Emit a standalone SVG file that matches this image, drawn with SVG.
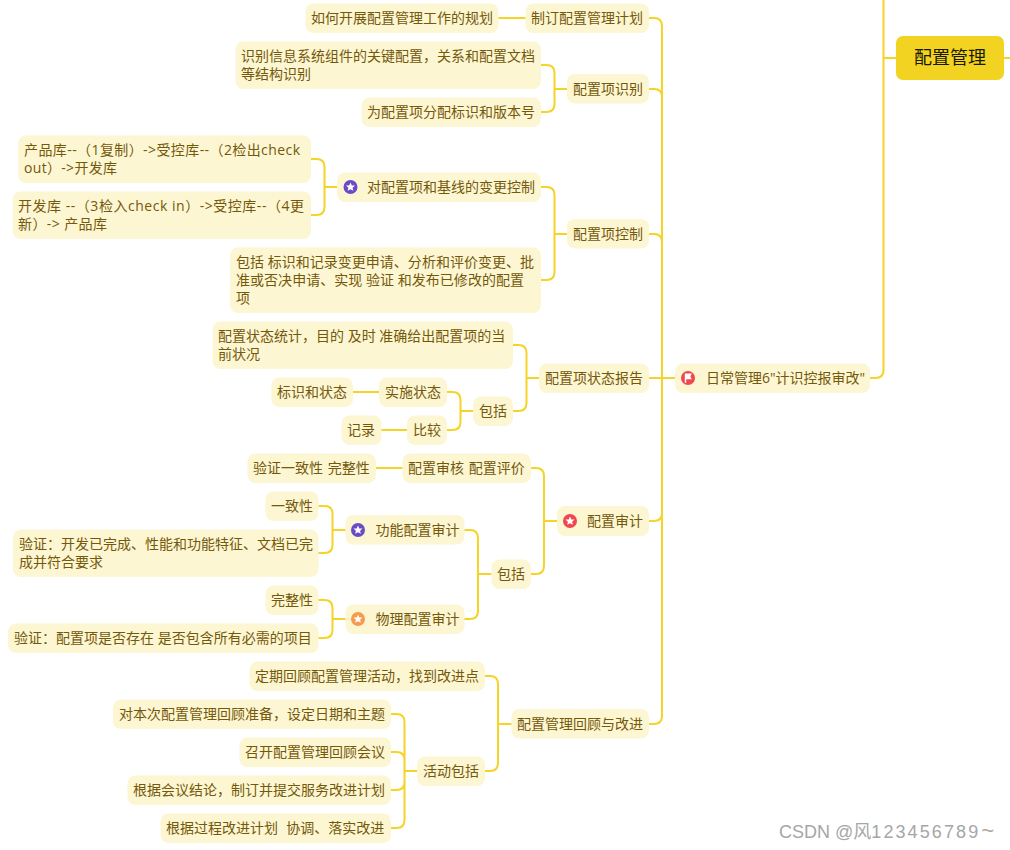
<svg xmlns="http://www.w3.org/2000/svg" width="1010" height="850" viewBox="0 0 1010 850">
<style>
.n{fill:#fdf6d3}
.t{font-family:"Open Sans","Noto Sans CJK SC",sans-serif;font-size:14px;fill:#74590a;white-space:pre}
.r{fill:#f3d321}
.rt{font-family:"Noto Sans CJK SC","Noto Sans",sans-serif;font-size:18px;fill:#1a1a00}
.c{fill:none;stroke:#f5d327;stroke-width:2;stroke-linecap:round}
.w{font-family:"Liberation Sans","Noto Sans CJK SC",sans-serif;font-size:18px;fill:#a6a6a6}
.d{letter-spacing:2.1px}
</style>
<defs>
<polygon id="star" points="0,-4.6 1.3,-1.6 4.5,-1.4 2.1,0.7 2.8,3.8 0,2.2 -2.8,3.8 -2.1,0.7 -4.5,-1.4 -1.3,-1.6" fill="#fff"/>
<path id="flag" d="M-3.2,-4.4H3.8L2.4,-1.6L3.8,1.2H-1.8V4.8H-3.2Z" fill="#fff"/>
</defs>
<rect width="1010" height="850" fill="#fff"/>
<g id="connectors">
<path class="c" d="M883.5 0V370Q883.5 378 875.5 378H870M896 58H883.5M1004 58H1010"/>
<path class="c" d="M675 378H649M649 18H654Q662 18 662 26V716Q662 724 654 724H649M649 89H654Q662 89 662 97M649 234H654Q662 234 662 242M649 521H654Q662 521 662 513"/>
<path class="c" d="M498.5 18H525"/>
<path class="c" d="M541 65H546.5Q554.5 65 554.5 73V104Q554.5 112 546.5 112H541M554.5 89H567"/>
<path class="c" d="M541 187H546.5Q554.5 187 554.5 195V272Q554.5 280 546.5 280H541M554.5 234H567"/>
<path class="c" d="M311 159H316.5Q324.5 159 324.5 167V207Q324.5 215 316.5 215H311M324.5 187H337"/>
<path class="c" d="M513 345H518.5Q526.5 345 526.5 353V403Q526.5 411 518.5 411H513M526.5 378H539"/>
<path class="c" d="M447 392H452.5Q460.5 392 460.5 400V422Q460.5 430 452.5 430H447M460.5 411H473"/>
<path class="c" d="M353 392H379M381.5 430H407"/>
<path class="c" d="M376 468H402"/>
<path class="c" d="M531 468H536Q544 468 544 476V566Q544 574 536 574H531M544 521H557"/>
<path class="c" d="M464.6 530H470Q478 530 478 538V611Q478 619 470 619H464.6M478 574H491"/>
<path class="c" d="M318.6 506H324.5Q332.5 506 332.5 514V545Q332.5 553 324.5 553H318.6M332.5 530H345"/>
<path class="c" d="M318.6 600H324.5Q332.5 600 332.5 608V630Q332.5 638 324.5 638H318.6M332.5 619H345"/>
<path class="c" d="M485 676H490Q498 676 498 684V763Q498 771 490 771H485M498 724H511"/>
<path class="c" d="M391 714H396.5Q404.5 714 404.5 722V820Q404.5 828 396.5 828H391M391 752H396.5Q404.5 752 404.5 760V782Q404.5 790 396.5 790H391M404.5 771H417"/>
</g>
<g id="root"><rect class="r" x="896" y="36" width="108" height="44" rx="7"/><text class="rt" x="914" y="64">配置管理</text></g>
<g id="n-daily"><rect class="n" x="675" y="363.5" width="195" height="29.5" rx="8"/><circle cx="688" cy="378" r="7" fill="#f0474f"/><use href="#flag" x="688" y="378"/><text class="t" x="706" y="383">日常管理6"计识控报审改"</text></g>
<g id="n-plan"><rect class="n" x="525.5" y="3.5" width="123.5" height="29.5" rx="8"/><text class="t" x="531" y="23">制订配置管理计划</text></g>
<g id="n-plan1"><rect class="n" x="305.5" y="3.5" width="193" height="29.5" rx="8"/><text class="t" x="311" y="23">如何开展配置管理工作的规划</text></g>
<g id="n-ident"><rect class="n" x="567" y="74" width="82" height="29.5" rx="8"/><text class="t" x="573" y="94">配置项识别</text></g>
<g id="n-ident1"><rect class="n" x="235.5" y="41.5" width="305.5" height="47.5" rx="8"/><text class="t" x="241" y="61">识别信息系统组件的关键配置，关系和配置文档</text><text class="t" x="241" y="79">等结构识别</text></g>
<g id="n-ident2"><rect class="n" x="361.5" y="97.5" width="179.5" height="29.5" rx="8"/><text class="t" x="367" y="117">为配置项分配标识和版本号</text></g>
<g id="n-ctrl"><rect class="n" x="567" y="219" width="82" height="29.5" rx="8"/><text class="t" x="573" y="239">配置项控制</text></g>
<g id="n-ctrl1"><rect class="n" x="337" y="172.5" width="204" height="29.5" rx="8"/><circle cx="350.5" cy="187" r="7" fill="#6a4bc6"/><use href="#star" x="350.5" y="187"/><text class="t" x="367" y="192">对配置项和基线的变更控制</text></g>
<g id="n-ctrl11"><rect class="n" x="18" y="135.5" width="293" height="47.5" rx="8"/><text class="t" x="24" y="155" textLength="276" lengthAdjust="spacing">产品库--（1复制）->受控库--（2检出check</text><text class="t" x="24" y="173" textLength="93" lengthAdjust="spacing">out）->开发库</text></g>
<g id="n-ctrl12"><rect class="n" x="12.5" y="191.5" width="298.5" height="47.5" rx="8"/><text class="t" x="18" y="211" textLength="286" lengthAdjust="spacing">开发库 --（3检入check in）->受控库--（4更</text><text class="t" x="18" y="229" textLength="89" lengthAdjust="spacing">新）-> 产品库</text></g>
<g id="n-ctrl2"><rect class="n" x="230" y="247.5" width="311" height="65.5" rx="8"/><text class="t" x="236" y="267" textLength="298" lengthAdjust="spacing">包括 标识和记录变更申请、分析和评价变更、批</text><text class="t" x="236" y="285" textLength="288" lengthAdjust="spacing">准或否决申请、实现 验证 和发布已修改的配置</text><text class="t" x="236" y="303">项</text></g>
<g id="n-report"><rect class="n" x="539" y="363.5" width="110" height="29.5" rx="8"/><text class="t" x="545" y="383">配置项状态报告</text></g>
<g id="n-report1"><rect class="n" x="212.5" y="321.5" width="300.5" height="47.5" rx="8"/><text class="t" x="218" y="341">配置状态统计，目的 及时 准确给出配置项的当</text><text class="t" x="218" y="359">前状况</text></g>
<g id="n-report2"><rect class="n" x="473" y="396.5" width="40" height="29.5" rx="8"/><text class="t" x="479" y="416">包括</text></g>
<g id="n-status"><rect class="n" x="379" y="377.5" width="68" height="29.5" rx="8"/><text class="t" x="385" y="397">实施状态</text></g>
<g id="n-status1"><rect class="n" x="271.5" y="377.5" width="81.5" height="29.5" rx="8"/><text class="t" x="277" y="397">标识和状态</text></g>
<g id="n-cmp"><rect class="n" x="407" y="415.5" width="40" height="29.5" rx="8"/><text class="t" x="413" y="435">比较</text></g>
<g id="n-cmp1"><rect class="n" x="341.5" y="415.5" width="40" height="29.5" rx="8"/><text class="t" x="347" y="435">记录</text></g>
<g id="n-audit"><rect class="n" x="557" y="506" width="92" height="30" rx="8"/><circle cx="570" cy="521" r="7" fill="#f0474f"/><use href="#star" x="570" y="521"/><text class="t" x="587" y="526">配置审计</text></g>
<g id="n-audit1"><rect class="n" x="402.5" y="453.5" width="128.5" height="29.5" rx="8"/><text class="t" x="408" y="473" word-spacing="1">配置审核 配置评价</text></g>
<g id="n-audit11"><rect class="n" x="247.5" y="453.5" width="128.5" height="29.5" rx="8"/><text class="t" x="253" y="473" word-spacing="1">验证一致性 完整性</text></g>
<g id="n-audit2"><rect class="n" x="491.5" y="559.5" width="39.5" height="29.5" rx="8"/><text class="t" x="497" y="579">包括</text></g>
<g id="n-func"><rect class="n" x="345.5" y="515" width="119" height="29.5" rx="8"/><circle cx="358" cy="530" r="7" fill="#6a4bc6"/><use href="#star" x="358" y="530"/><text class="t" x="375.5" y="535">功能配置审计</text></g>
<g id="n-func1"><rect class="n" x="265.5" y="491.5" width="53" height="29.5" rx="8"/><text class="t" x="271" y="511">一致性</text></g>
<g id="n-func2"><rect class="n" x="13" y="529.5" width="305.5" height="47.5" rx="8"/><text class="t" x="19" y="549">验证：开发已完成、性能和功能特征、文档已完</text><text class="t" x="19" y="567">成并符合要求</text></g>
<g id="n-phys"><rect class="n" x="345.5" y="604.5" width="119" height="29.5" rx="8"/><circle cx="358" cy="619" r="7" fill="#f79a4c"/><use href="#star" x="358" y="619"/><text class="t" x="375.5" y="624">物理配置审计</text></g>
<g id="n-phys1"><rect class="n" x="265.5" y="585.5" width="53" height="29.5" rx="8"/><text class="t" x="271" y="605">完整性</text></g>
<g id="n-phys2"><rect class="n" x="8" y="623.5" width="310.5" height="29.5" rx="8"/><text class="t" x="14" y="643">验证：配置项是否存在 是否包含所有必需的项目</text></g>
<g id="n-review"><rect class="n" x="511.5" y="709" width="137.5" height="29.5" rx="8"/><text class="t" x="517" y="729">配置管理回顾与改进</text></g>
<g id="n-review1"><rect class="n" x="249.5" y="661.5" width="235.5" height="29.5" rx="8"/><text class="t" x="255" y="681">定期回顾配置管理活动，找到改进点</text></g>
<g id="n-review2"><rect class="n" x="417" y="756.5" width="68" height="29.5" rx="8"/><text class="t" x="423" y="776">活动包括</text></g>
<g id="n-act1"><rect class="n" x="113" y="699.5" width="278" height="29.5" rx="8"/><text class="t" x="119" y="719">对本次配置管理回顾准备，设定日期和主题</text></g>
<g id="n-act2"><rect class="n" x="239.5" y="737.5" width="151.5" height="29.5" rx="8"/><text class="t" x="245" y="757">召开配置管理回顾会议</text></g>
<g id="n-act3"><rect class="n" x="127.5" y="775.5" width="263.5" height="29.5" rx="8"/><text class="t" x="133" y="795">根据会议结论，制订并提交服务改进计划</text></g>
<g id="n-act4"><rect class="n" x="160.5" y="813.5" width="230.5" height="29.5" rx="8"/><text class="t" x="166" y="833" word-spacing="0.5">根据过程改进计划  协调、落实改进</text></g>
<text class="w" x="779" y="838">CSDN @风<tspan class="d">123456789</tspan><tspan font-size="22" dx="1">~</tspan></text>
</svg>
